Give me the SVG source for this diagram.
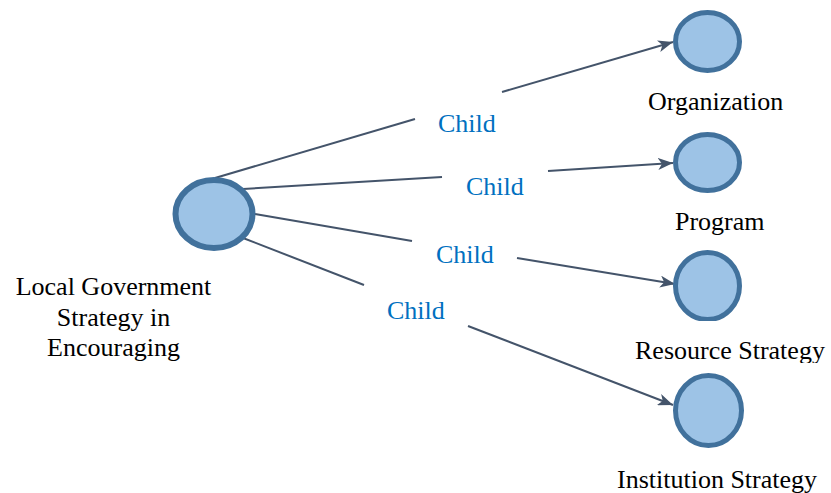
<svg xmlns="http://www.w3.org/2000/svg" width="831" height="493" viewBox="0 0 831 493">
<style>
.node{fill:#9dc3e6;stroke:#41719c;}
.lbl{font-family:"Liberation Serif","Times New Roman",serif;font-size:26px;fill:#000;}
.child{font-family:"Liberation Serif","Times New Roman",serif;font-size:26px;fill:#0070c0;}
.conn{stroke:#44546a;stroke-width:2;fill:none;}
</style>
<defs>
<marker id="arr" markerUnits="userSpaceOnUse" markerWidth="16" markerHeight="12" refX="15" refY="6" orient="auto">
<path d="M0,0 L15,6 L0,12 L4,6 z" fill="#44546a"/>
</marker>
<clipPath id="clipRes"><rect x="600" y="240" width="231" height="81"/></clipPath>
<clipPath id="clipResT"><rect x="600" y="330" width="231" height="33"/></clipPath>
</defs>
<rect width="831" height="493" fill="#fff"/>
<g id="connectors">
<line class="conn" x1="215" y1="178" x2="415" y2="119"/>
<line class="conn" x1="502" y1="92" x2="673" y2="42" marker-end="url(#arr)"/>
<line class="conn" x1="243" y1="189" x2="442" y2="177"/>
<line class="conn" x1="548" y1="171" x2="673" y2="163" marker-end="url(#arr)"/>
<line class="conn" x1="255" y1="214" x2="412" y2="241"/>
<line class="conn" x1="517" y1="258" x2="675" y2="284" marker-end="url(#arr)"/>
<line class="conn" x1="243" y1="238" x2="364" y2="285"/>
<line class="conn" x1="468" y1="326" x2="673" y2="405" marker-end="url(#arr)"/>
<text class="child" x="438" y="132">Child</text>
<text class="child" x="466" y="195">Child</text>
<text class="child" x="436" y="263">Child</text>
<text class="child" x="387" y="319">Child</text>
</g>
<g id="root">
<ellipse class="node" cx="214" cy="214" rx="38.5" ry="34" stroke-width="6"/>
<text class="lbl" text-anchor="middle" x="113.5" y="295">Local Government</text>
<text class="lbl" text-anchor="middle" x="113.5" y="326">Strategy in</text>
<text class="lbl" text-anchor="middle" x="113.5" y="356">Encouraging</text>
</g>
<g id="organization">
<ellipse class="node" cx="707.5" cy="41.5" rx="32" ry="29" stroke-width="5"/>
<text class="lbl" x="648" y="110">Organization</text>
</g>
<g id="program">
<ellipse class="node" cx="707.5" cy="162.5" rx="32" ry="28" stroke-width="5"/>
<text class="lbl" x="675" y="230">Program</text>
</g>
<g id="resource">
<ellipse class="node" clip-path="url(#clipRes)" cx="707.5" cy="286" rx="32" ry="33.5" stroke-width="5"/>
<text class="lbl" clip-path="url(#clipResT)" x="635" y="359">Resource Strategy</text>
</g>
<g id="institution">
<ellipse class="node" cx="708.5" cy="410.5" rx="33" ry="35" stroke-width="5"/>
<text class="lbl" x="617" y="488">Institution Strategy</text>
</g>
</svg>
